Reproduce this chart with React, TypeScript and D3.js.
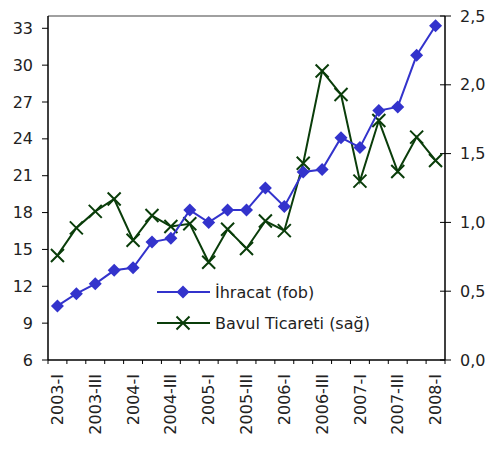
import { line, scaleBand, scaleLinear, range } from "d3";

const quarters = [
  "2003-I", "2003-II", "2003-III", "2003-IV",
  "2004-I", "2004-II", "2004-III", "2004-IV",
  "2005-I", "2005-II", "2005-III", "2005-IV",
  "2006-I", "2006-II", "2006-III", "2006-IV",
  "2007-I", "2007-II", "2007-III", "2007-IV",
  "2008-I",
];

// İhracat (fob), left axis
const exportsFob = [
  10.4, 11.4, 12.2, 13.3, 13.5, 15.6, 15.9, 18.2, 17.2, 18.2, 18.2,
  20.0, 18.5, 21.3, 21.5, 24.1, 23.3, 26.3, 26.6, 30.8, 33.2,
];

// Bavul Ticareti (sağ), right axis
const suitcaseTrade = [
  0.76, 0.96, 1.08, 1.17, 0.87, 1.05, 0.97, 0.99, 0.71, 0.95, 0.81,
  1.01, 0.94, 1.43, 2.1, 1.93, 1.3, 1.74, 1.37, 1.62, 1.45,
];

const leftTicks = [6, 9, 12, 15, 18, 21, 24, 27, 30, 33];
const rightTicks = [0, 0.5, 1, 1.5, 2, 2.5];
const legendLabels = ["İhracat (fob)", "Bavul Ticareti (sağ)"];

const W = 491;
const H = 450;
const plot = { left: 48, right: 445, top: 16, bottom: 360 };
const font = "'DejaVu Sans', sans-serif";
const blue = "#3333cc";
const green = "#0a3d0a";

export default function App() {
  const x = scaleBand<string>()
    .domain(quarters)
    .range([plot.left, plot.right]);
  const yL = scaleLinear().domain([6, 34]).range([plot.bottom, plot.top]);
  const yR = scaleLinear().domain([0, 2.5]).range([plot.bottom, plot.top]);
  const cx = (i: number) => (x(quarters[i]) ?? 0) + x.bandwidth() / 2;

  const blueLine = line<number>()
    .x((_, i) => cx(i))
    .y((d) => yL(d));
  const greenLine = line<number>()
    .x((_, i) => cx(i))
    .y((d) => yR(d));

  const diamond = (px: number, py: number, r = 6.5) =>
    `M${px},${py - r}L${px + r},${py}L${px},${py + r}L${px - r},${py}Z`;
  const cross = (px: number, py: number, r = 6.5) =>
    `M${px - r},${py - r}L${px + r},${py + r}M${px - r},${py + r}L${px + r},${py - r}`;

  const fmt = (v: number) => v.toFixed(1).replace(".", ",");

  return (
    <svg
      width={W}
      height={H}
      style={{ position: "absolute", left: 0, top: 0, background: "#fff" }}
      fontFamily={font}
    >
      {/* frame */}
      <line x1={plot.left} x2={plot.right} y1={plot.top} y2={plot.top} stroke="#808080" strokeWidth={1.5} />
      <line x1={plot.left} x2={plot.left} y1={plot.top} y2={plot.bottom} stroke="#000" strokeWidth={1.5} />
      <line x1={plot.right} x2={plot.right} y1={plot.top} y2={plot.bottom} stroke="#000" strokeWidth={1.5} />
      <line x1={plot.left} x2={plot.right} y1={plot.bottom} y2={plot.bottom} stroke="#000" strokeWidth={1.5} />

      {/* left axis */}
      {leftTicks.map((t) => (
        <g key={`l${t}`}>
          <line x1={plot.left - 6} x2={plot.left} y1={yL(t)} y2={yL(t)} stroke="#000" />
          <text x={33} y={yL(t)} dy="0.35em" textAnchor="end" fontSize={16} fill="#222">
            {t}
          </text>
        </g>
      ))}

      {/* right axis */}
      {rightTicks.map((t) => (
        <g key={`r${t}`}>
          <line x1={plot.right - 5} x2={plot.right + 6} y1={yR(t)} y2={yR(t)} stroke="#000" />
          <text x={460} y={yR(t)} dy="0.35em" textAnchor="start" fontSize={16} fill="#222">
            {fmt(t)}
          </text>
        </g>
      ))}

      {/* x ticks */}
      {range(quarters.length + 1).map((i) => {
        const px = plot.left + i * x.step();
        return <line key={`xt${i}`} x1={px} x2={px} y1={plot.bottom} y2={plot.bottom + 4} stroke="#000" />;
      })}
      {quarters.map((q, i) =>
        i % 2 === 0 ? (
          <text
            key={q}
            transform={`translate(${cx(i)},${plot.bottom + 14}) rotate(-90)`}
            dy="0.35em"
            textAnchor="end"
            fontSize={16}
            fill="#222"
          >
            {q}
          </text>
        ) : null,
      )}

      {/* series */}
      <path d={greenLine(suitcaseTrade) ?? ""} fill="none" stroke={green} strokeWidth={2} />
      {suitcaseTrade.map((v, i) => (
        <path key={`g${i}`} d={cross(cx(i), yR(v))} stroke={green} strokeWidth={2} fill="none" />
      ))}
      <path d={blueLine(exportsFob) ?? ""} fill="none" stroke={blue} strokeWidth={2} />
      {exportsFob.map((v, i) => (
        <path key={`b${i}`} d={diamond(cx(i), yL(v))} fill={blue} />
      ))}

      {/* legend */}
      <g>
        <line x1={157} x2={210} y1={292} y2={292} stroke={blue} strokeWidth={2} />
        <path d={diamond(183, 292)} fill={blue} />
        <text x={215} y={292} dy="0.35em" fontSize={16} fill="#222">
          {legendLabels[0]}
        </text>
        <line x1={157} x2={210} y1={323} y2={323} stroke={green} strokeWidth={2} />
        <path d={cross(183, 323)} stroke={green} strokeWidth={2} fill="none" />
        <text x={215} y={323} dy="0.35em" fontSize={16} fill="#222">
          {legendLabels[1]}
        </text>
      </g>
    </svg>
  );
}
